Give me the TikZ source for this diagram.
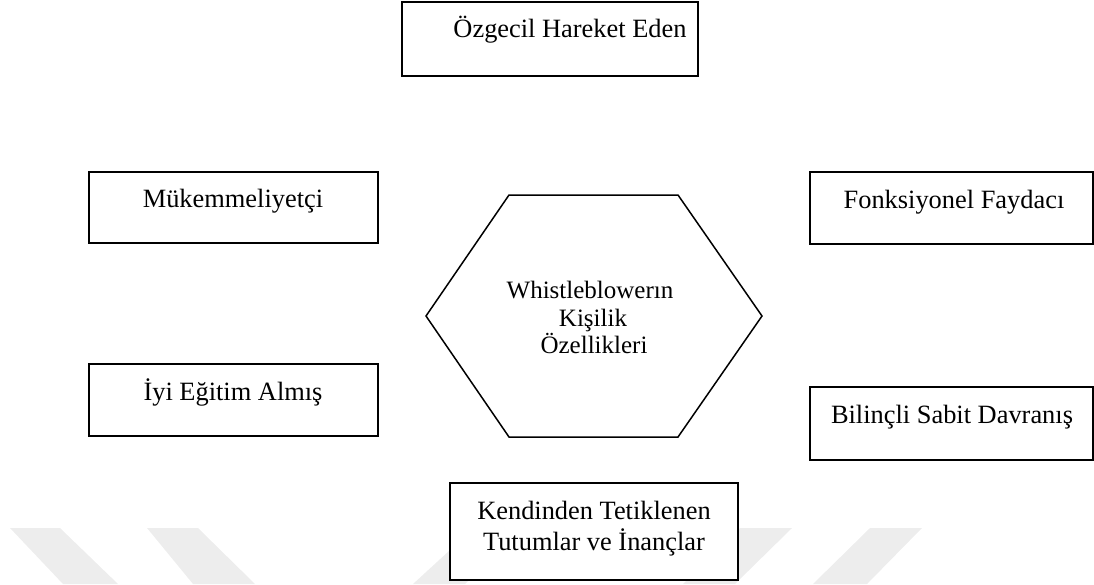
\documentclass[tikz,border=0pt]{standalone}
\usepackage{fontspec}
\setmainfont{Liberation Serif}
\begin{document}
\begin{tikzpicture}[x=1pt,y=-1pt,
  box/.style={draw=black, line width=1.8pt, fill=white, inner sep=0pt},
  lbl/.style={font=\fontsize{26.4}{31}\selectfont, inner sep=0pt, anchor=base},
  hexlbl/.style={font=\fontsize{25}{27}\selectfont, inner sep=0pt, anchor=base},
  hexline/.style={draw=black, line width=1.5pt, line join=miter},
  wm/.style={fill=black!7, draw=none}]
\useasboundingbox (0,0) rectangle (1094,584);
% faint watermark bands
\fill[wm] (10,528) -- (60,528) -- (118,584) -- (63,584) -- cycle;
\fill[wm] (147,528) -- (198,528) -- (255,584) -- (193,584) -- cycle;
\fill[wm] (474,528) -- (526,528) -- (465,584) -- (413,584) -- cycle;
\fill[wm] (740,528) -- (792,528) -- (735,584) -- (683,584) -- cycle;
\fill[wm] (870,528) -- (922,528) -- (867,584) -- (813,584) -- cycle;
% boxes
\node[box, minimum width=296, minimum height=74] (b1) at (550,39) {};
\node[box, minimum width=289, minimum height=71] (b2) at (233.5,207.5) {};
\node[box, minimum width=289, minimum height=72] (b3) at (233.5,400) {};
\node[box, minimum width=283, minimum height=72] (b4) at (951.5,208) {};
\node[box, minimum width=283, minimum height=73] (b5) at (951.5,423.5) {};
\node[box, minimum width=288, minimum height=97] (b6) at (594,531.5) {};
% box texts
\node[lbl] (t1) at (570,37) {Özgecil Hareket Eden};
\node[lbl] (t2) at (233,207) {Mükemmeliyetçi};
\node[lbl] (t3) at (233,400) {İyi Eğitim Almış};
\node[lbl] (t4) at (954,208) {Fonksiyonel Faydacı};
\node[lbl] (t5) at (952,423) {Bilinçli Sabit Davranış};
\node[lbl] (t6a) at (594,519) {Kendinden Tetiklenen};
\node[lbl] (t6b) at (594,550) {Tutumlar ve İnançlar};
% hexagon
\coordinate (hc) at (594,316);
\draw[hexline] (509,195) coordinate (h1) -- (678,195) coordinate (h2) -- (762,316) coordinate (h3)
  -- (678,437) coordinate (h4) -- (509,437) coordinate (h5) -- (426,316) coordinate (h6) -- cycle;
\node[hexlbl] (c1) at (590,298) {Whistleblowerın};
\node[hexlbl] (c2) at (593,326) {Kişilik};
\node[hexlbl] (c3) at (594,353) {Özellikleri};
\end{tikzpicture}
\end{document}
